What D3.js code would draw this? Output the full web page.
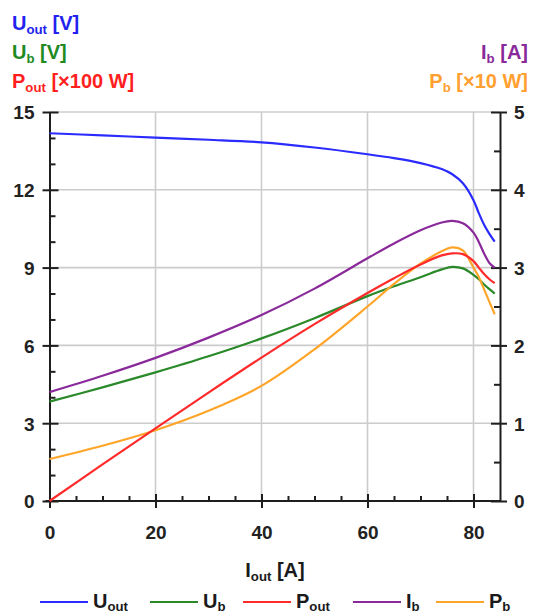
<!DOCTYPE html>
<html><head><meta charset="utf-8">
<script src="https://cdn.jsdelivr.net/npm/d3@7"></script>
<style>
html,body{margin:0;padding:0;background:#fff;}
svg{display:block;font-family:"Liberation Sans",Arial,sans-serif;font-weight:bold;}
</style></head>
<body>
<svg id="c" width="533" height="614"></svg>
<script>
// ---- data ----
const iout = [0, 10, 20, 30, 40, 50, 60, 65, 70, 74, 76, 78, 80, 81, 82, 83, 84];
const uout = [14.18, 14.10, 14.01, 13.93, 13.83, 13.63, 13.37, 13.22, 13.03, 12.80, 12.60, 12.25, 11.60, 11.10, 10.65, 10.30, 10.00];
const ub   = [3.83, 4.38, 4.96, 5.58, 6.27, 7.05, 7.90, 8.28, 8.63, 8.93, 9.03, 8.97, 8.72, 8.55, 8.35, 8.17, 8.00];
const pout = [0, 1.41, 2.80, 4.18, 5.53, 6.82, 8.02, 8.59, 9.12, 9.47, 9.55, 9.52, 9.25, 9.00, 8.75, 8.55, 8.40];
const ib   = [1.40, 1.61, 1.84, 2.10, 2.39, 2.73, 3.12, 3.31, 3.48, 3.58, 3.60, 3.57, 3.45, 3.33, 3.18, 3.06, 3.00];
const pb   = [0.54, 0.71, 0.91, 1.16, 1.48, 1.95, 2.50, 2.79, 3.05, 3.21, 3.26, 3.22, 3.00, 2.88, 2.72, 2.56, 2.40];

const xTicks = [0, 20, 40, 60, 80];
const yLeftTicks = [0, 3, 6, 9, 12, 15];
const yRightTicks = [0, 1, 2, 3, 4, 5];

const colors = {uout:"#2b2bff", ub:"#2a8a2a", pout:"#ff2a2a", ib:"#8a2a9a", pb:"#ffa52a"};

// ---- scales ----
const svg = d3.select("#c");
const X0 = 49.5, X1 = 500, Y0 = 501, Y1 = 112;
const x = d3.scaleLinear().domain([0, 85]).range([X0, X1]);
const yL = d3.scaleLinear().domain([0, 15]).range([Y0, Y1]);
const yR = d3.scaleLinear().domain([0, 5]).range([Y0, Y1]);

const axisCol = "#1e1e1e";
const gridCol = "#cccccc";

// grid
const grid = svg.append("g");
grid.selectAll("line.v").data(xTicks.filter(d => d > 0)).join("line")
  .attr("x1", d => x(d)).attr("x2", d => x(d)).attr("y1", Y0).attr("y2", Y1)
  .attr("stroke", gridCol).attr("stroke-width", 1.6);
grid.selectAll("line.h").data(yLeftTicks.filter(d => d > 0)).join("line")
  .attr("x1", X0).attr("x2", X1).attr("y1", d => yL(d)).attr("y2", d => yL(d))
  .attr("stroke", gridCol).attr("stroke-width", 1.6);

// axes helpers
function styleAxis(g) {
  g.select(".domain").attr("stroke", axisCol).attr("stroke-width", 2);
  g.selectAll(".tick line").attr("stroke", axisCol).attr("stroke-width", 2);
  g.selectAll(".tick text").attr("fill", "#222").attr("font-size", 19)
    .attr("font-family", "'Liberation Sans',Arial,sans-serif").attr("font-weight", "bold");
}

// bottom axis
const minorX = d3.range(5, 80, 5).filter(d => d % 20 !== 0);
svg.append("g").attr("transform", `translate(0,${Y0})`)
  .call(d3.axisBottom(x).tickValues(minorX).tickSize(-5).tickFormat("").tickSizeOuter(0))
  .call(g => { g.select(".domain").remove(); g.selectAll(".tick line").attr("stroke", axisCol).attr("stroke-width", 2); });
const gx = svg.append("g").attr("transform", `translate(0,${Y0})`)
  .call(d3.axisBottom(x).tickValues(xTicks).tickSize(7).tickSizeOuter(0).tickPadding(18))
  .call(styleAxis);
gx.selectAll(".tick line").attr("y1", -7);
gx.select(".domain").attr("d", `M${X0 - 4},0H${X1}`);

// left axis
const minorY = d3.range(1, 15, 1).filter(d => d % 3 !== 0);
svg.append("g").attr("transform", `translate(${X0},0)`)
  .call(d3.axisLeft(yL).tickValues(minorY).tickSize(-6).tickFormat("").tickSizeOuter(0))
  .call(g => { g.select(".domain").remove(); g.selectAll(".tick line").attr("stroke", axisCol).attr("stroke-width", 2); });
const gyl = svg.append("g").attr("transform", `translate(${X0},0)`)
  .call(d3.axisLeft(yL).tickValues(yLeftTicks).tickSize(7).tickSizeOuter(0).tickPadding(8))
  .call(styleAxis);
gyl.selectAll(".tick line").attr("x1", 9);
gyl.selectAll(".tick text").attr("dy", "0.36em");

// right axis
const minorR = d3.range(0.5, 5, 1);
svg.append("g").attr("transform", `translate(${X1},0)`)
  .call(d3.axisRight(yR).tickValues(minorR).tickSize(-6).tickFormat("").tickSizeOuter(0))
  .call(g => { g.select(".domain").remove(); g.selectAll(".tick line").attr("stroke", axisCol).attr("stroke-width", 2); });
const gyr = svg.append("g").attr("transform", `translate(${X1},0)`)
  .call(d3.axisRight(yR).tickValues(yRightTicks).tickFormat(d3.format("d")).tickSize(7).tickSizeOuter(0).tickPadding(7))
  .call(styleAxis);
gyr.selectAll(".tick line").attr("x1", -9);
gyr.selectAll(".tick text").attr("dy", "0.36em");

// curves
const series = [
  {key:"ub", vals:ub, y:yL},
  {key:"pb", vals:pb, y:yR},
  {key:"pout", vals:pout, y:yL},
  {key:"ib", vals:ib, y:yR},
  {key:"uout", vals:uout, y:yL}
];
series.forEach(s => {
  const line = d3.line().x((d, i) => x(iout[i])).y(d => s.y(d)).curve(d3.curveCatmullRom.alpha(0.5));
  svg.append("path").datum(s.vals).attr("d", line)
    .attr("fill", "none").attr("stroke", colors[s.key]).attr("stroke-width", 2.2)
    .attr("stroke-linejoin", "round");
});

// text with subscript helper
function label(parent, xpos, ypos, main, sub, rest, color, size, anchor, drop) {
  const d = drop == null ? size * 0.2 : drop;
  const t = parent.append("text").attr("x", xpos).attr("y", ypos).attr("fill", color)
    .attr("font-size", size).attr("text-anchor", anchor || "start");
  t.append("tspan").text(main);
  t.append("tspan").attr("font-size", size * 0.66).attr("dy", d).text(sub);
  if (rest) t.append("tspan").attr("dy", -d).text(rest);
  return t;
}

// axis unit labels
label(svg, 12, 30, "U", "out", " [V]", "#2323f0", 20);
label(svg, 12, 59, "U", "b", " [V]", "#1f8a1f", 20);
label(svg, 12, 88, "P", "out", " [×100 W]", "#ff1f1f", 20);
label(svg, 528, 59, "I", "b", " [A]", "#8a2a9a", 20, "end");
label(svg, 528, 88, "P", "b", " [×10 W]", "#ffa030", 20, "end");

// x-axis title
label(svg, 275, 577, "I", "out", " [A]", "#1a1a1a", 20, "middle");

// legend
const legend = [
  {key:"uout", main:"U", sub:"out", x:40},
  {key:"ub", main:"U", sub:"b", x:150},
  {key:"pout", main:"P", sub:"out", x:243},
  {key:"ib", main:"I", sub:"b", x:353},
  {key:"pb", main:"P", sub:"b", x:436}
];
const lg = svg.append("g");
legend.forEach(l => {
  lg.append("line").attr("x1", l.x).attr("x2", l.x + 48).attr("y1", 602).attr("y2", 602)
    .attr("stroke", colors[l.key]).attr("stroke-width", 2.2);
  label(lg, l.x + 53, 608, l.main, l.sub, null, "#1a1a1a", 20, "start", 2.5);
});
</script>
</body></html>
